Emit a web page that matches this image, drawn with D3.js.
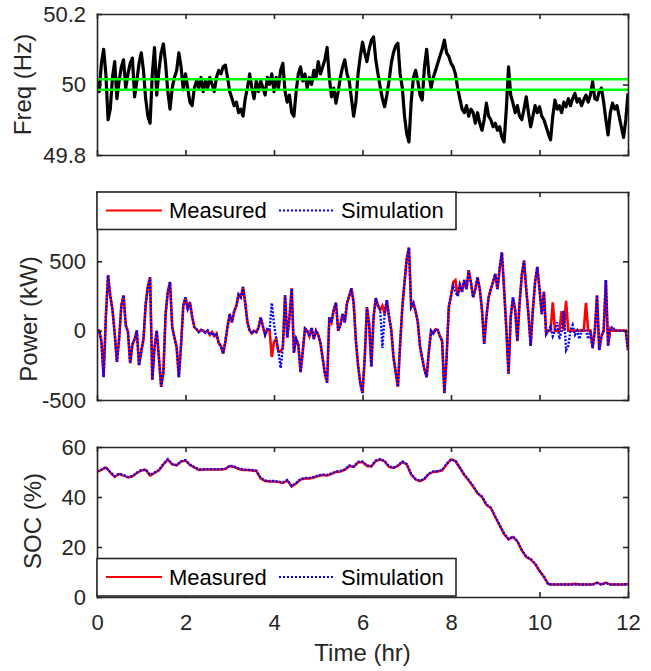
<!DOCTYPE html>
<head>
<meta charset='utf-8'>
<style>
  body { margin: 0; background: #fff; font-family: 'Liberation Sans', Arial, sans-serif; }
  .axis path, .axis line { stroke: #262626; stroke-width: 1.6px; }
  .axis text { font-size: 22px; fill: #262626; font-family: 'Liberation Sans', Arial, sans-serif; }
  .label { font-size: 24px; fill: #262626; }
  .legend text { font-size: 22px; fill: #000; }
</style>
</head>
<body>
<div id='vis'></div>
<script src='https://cdn.jsdelivr.net/npm/d3@7'></script>
<script>
  // time axis 0..12 hr, every series is evenly spaced over it
  const timeTicks = [0, 2, 4, 6, 8, 10, 12]
  const freqTicks = [49.8, 50, 50.2]
  const powerTicks = [-500, 0, 500]
  const socTicks = [0, 20, 40, 60]
  const seriesNames = ['Measured', 'Simulation']
  const deadband = [49.985, 50.015]

  // frequency (Hz), 0.05 hr steps
  const freqHz = [
    50.01, 49.98, 50.06, 50.10, 50.03, 49.90, 49.93, 50.02, 50.065, 49.96, 50.01, 50.05, 50.07, 49.99, 50.03, 50.06, 50.075, 49.965, 50.01, 50.06,
    50.09, 50.04, 49.96, 49.91, 49.89, 50.03, 50.105, 49.97, 50.04, 50.09, 50.115, 50.06, 49.98, 49.93, 49.99, 50.02, 50.04, 50.09, 50.05, 49.985,
    50.03, 49.99, 49.95, 49.94, 49.99, 50.01, 49.99, 50.02, 49.98, 50.01, 49.99, 50.02, 50.00, 49.98, 50.02, 50.04, 50.03, 50.05, 50.055, 50.02,
    49.98, 49.96, 49.94, 49.95, 49.92, 49.93, 49.91, 49.96, 49.99, 50.03, 49.99, 49.96, 50.01, 49.98, 50.01, 49.99, 49.97, 50.02, 50.00, 50.03,
    49.98, 50.02, 49.99, 50.04, 50.06, 49.98, 49.95, 49.97, 49.92, 49.91, 49.98, 50.03, 50.05, 50.01, 50.03, 49.99, 50.02, 50.00, 50.04, 50.02,
    50.065, 50.03, 50.05, 50.07, 50.105, 50.02, 49.965, 49.99, 49.947, 49.98, 50.02, 50.05, 50.07, 50.03, 50.01, 49.96, 49.91, 49.95, 50.03, 50.08,
    50.12, 50.09, 50.065, 50.10, 50.125, 50.135, 50.07, 50.03, 49.993, 49.96, 49.937, 49.97, 50.01, 50.06, 50.09, 50.11, 50.117, 50.03, 49.99, 49.91,
    49.86, 49.837, 49.95, 50.02, 50.04, 50.01, 49.97, 49.956, 50.05, 50.10, 50.03, 49.99, 50.02, 50.04, 50.06, 50.08, 50.10, 50.126, 50.09, 50.08,
    50.06, 50.05, 50.03, 49.99, 49.96, 49.93, 49.92, 49.94, 49.91, 49.93, 49.92, 49.89, 49.92, 49.89, 49.87, 49.90, 49.947, 49.91, 49.90, 49.88,
    49.89, 49.87, 49.88, 49.85, 49.837, 49.93, 50.05, 49.97, 49.947, 49.92, 49.94, 49.91, 49.90, 49.93, 49.965, 49.92, 49.88, 49.91, 49.94, 49.92,
    49.937, 49.91, 49.90, 49.88, 49.86, 49.843, 49.91, 49.956, 49.93, 49.94, 49.92, 49.95, 49.937, 49.96, 49.94, 49.96, 49.975, 49.95, 49.96, 49.94,
    49.956, 49.97, 49.95, 49.97, 50.008, 49.96, 49.956, 49.98, 49.99, 49.95, 49.90, 49.857, 49.92, 49.947, 49.93, 49.94, 49.91, 49.88, 49.85, 49.90,
    49.975
  ]

  // battery power (kW), 0.05 hr steps
  const powerMeasured = [
    0, 0, -80, -335, 100, 400, 250, 150, -20, -225, -60, 180, 255, 40, -10, -235, -100, -60, 0, -250,
    -150, -60, 190, 320, 385, -355, -120, 0, -200, -405, -300, 120, 280, 350, 25, -50, -120, -335, -100, 180,
    240, 160, 205, 100, 25, 10, -10, 5, 0, -15, 0, -30, -10, -40, -20, -90, -110, -165, -80, 30,
    120, 60, 140, 180, 260, 240, 315, 200, 60, 0, -20, 0, -10, 20, 95, 30, -30, 10, 0, -190,
    -80, -60, -150, -150, -120, 255, -50, 100, 305, -160, -60, -100, -300, -150, 15, 0, -40, 20, -60, 0,
    -30, -90, -200, -310, -375, 95, 60, 150, 200, 0, 40, 120, 60, 200, 250, 305, 200, -70, -250, -380,
    -450, -200, 170, 50, -260, 100, 235, 180, 150, 180, 120, 220, 100, 5, -190, -300, -405, -100, 170, 350,
    520, 600, 170, 200, 140, 60, -115, -200, -280, -335, -150, 0, -20, 10, 5, -40, -75, -450, -200, 170,
    250, 350, 365, 250, 330, 280, 365, 300, 435, 350, 240, 300, 385, 300, 150, -95, 100, 240, 300, 350,
    410, 300, 450, 565, 300, 15, -310, 100, 240, 150, -75, 200, 400, 505, 300, 120, -110, 150, 350, 460,
    300, 120, 280, -25, 0, 0, 205, 0, 0, 0, 140, 0, 215, 0, 0, 0, 0, 0, 0, 0,
    0, 200, 0, 0, -125, 0, 255, -140, -40, 0, 365, -110, 15, 0, 0, 0, 0, 0, 0, 0,
    -140
  ]
  const powerSimulation = [
    0, 0, -80, -335, 100, 400, 250, 150, -20, -225, -60, 180, 255, 40, -10, -235, -100, -60, 0, -250,
    -150, -60, 190, 320, 385, -355, -120, 0, -200, -405, -300, 120, 280, 350, 25, -50, -120, -335, -100, 180,
    240, 160, 205, 100, 25, 10, -10, 5, 0, -15, 0, -30, -10, -40, -20, -90, -110, -165, -80, 30,
    120, 60, 140, 180, 260, 240, 315, 200, 60, 0, -20, 0, -10, 20, 95, 30, -30, 10, 0, 200,
    50, -60, -150, -270, -120, 255, -50, 100, 305, -160, -60, -100, -300, -150, 15, 0, -40, 20, -60, 0,
    -30, -90, -200, -310, -375, 95, 60, 150, 200, 0, 40, 120, 60, 200, 250, 305, 200, -70, -250, -380,
    -450, -200, 170, 50, -260, 100, 235, 180, 150, -125, 120, 220, 100, 5, -190, -300, -405, -100, 170, 350,
    520, 600, 170, 200, 140, 60, -115, -200, -280, -335, -150, 0, -20, 10, 5, -40, -75, -450, -200, 170,
    250, 320, 280, 250, 330, 280, 365, 300, 435, 350, 240, 300, 385, 300, 150, -95, 100, 240, 300, 350,
    410, 300, 450, 565, 300, 15, -310, 100, 240, 150, -75, 200, 400, 505, 300, 120, -110, 150, 350, 460,
    300, 120, 280, -25, 0, 30, -40, 0, 60, -60, 0, 145, -140, -110, 0, 40, -30, 0, -60, 0,
    0, 0, -60, 0, -125, 0, 255, -140, -40, 0, 365, -110, 15, 30, 0, 0, 0, 0, 0, 0,
    -140
  ]

  // state of charge (%), 0.1 hr steps
  const socMeasured = [
    50.0, 50.8, 51.8, 49.8, 48.0, 49.2, 48.6, 47.8, 48.2, 49.6,
    50.6, 50.9, 48.5, 49.6, 50.7, 53.0, 55.0, 53.0, 52.6, 54.2,
    54.6, 52.8, 51.8, 50.8, 51.0, 51.0, 51.0, 51.0, 51.0, 51.2,
    52.4, 52.0, 51.2, 50.8, 50.8, 50.6, 50.4, 47.4, 46.4, 46.2,
    46.2, 46.0, 45.6, 46.6, 44.2, 45.4, 47.0, 47.4, 47.4, 47.8,
    48.4, 48.8, 48.6, 49.2, 50.0, 50.2, 50.8, 52.4, 52.0, 53.8,
    54.0, 52.4, 52.2, 54.4, 55.0, 54.2, 52.0, 51.6, 52.4, 54.0,
    53.0, 49.0, 47.0, 46.3, 47.2, 49.2, 50.0, 50.2, 50.6, 53.0,
    55.0, 54.4, 51.6, 48.8, 46.6, 44.2, 41.4, 40.0, 36.8, 35.6,
    32.0, 28.6, 25.2, 23.0, 24.0, 22.2, 18.6, 16.0, 15.0, 13.2,
    10.4, 8.0, 5.2, 5.0, 5.0, 5.0, 5.0, 5.0, 5.3, 5.0,
    5.0, 5.0, 5.0, 5.8, 5.0, 5.8, 5.0, 5.0, 5.0, 5.0, 5.2
  ]
  const socSimulation = [
    50.2, 51.0, 51.9, 50.0, 48.3, 49.4, 48.8, 48.0, 48.4, 49.7,
    50.7, 51.0, 48.8, 49.8, 50.8, 53.2, 55.1, 53.2, 52.8, 54.3,
    54.7, 53.0, 52.0, 51.0, 51.1, 51.1, 51.1, 51.1, 51.1, 51.3,
    52.5, 52.2, 51.4, 51.0, 50.9, 50.8, 50.5, 47.6, 46.6, 46.4,
    46.4, 46.2, 45.8, 46.8, 44.4, 45.6, 47.2, 47.6, 47.6, 48.0,
    48.6, 49.0, 48.8, 49.4, 50.2, 50.4, 51.0, 52.6, 52.2, 54.0,
    54.2, 52.6, 52.4, 54.6, 55.2, 54.4, 52.2, 51.8, 52.6, 54.2,
    53.2, 49.2, 47.2, 46.5, 47.4, 49.4, 50.2, 50.4, 50.8, 53.2,
    55.1, 54.5, 51.8, 49.0, 46.8, 44.4, 41.6, 40.2, 37.0, 35.8,
    32.2, 28.8, 25.4, 23.2, 24.2, 22.4, 18.8, 16.2, 15.2, 13.4,
    10.6, 8.2, 5.0, 5.0, 5.0, 5.0, 5.0, 5.0, 5.0, 5.0,
    5.0, 5.0, 5.0, 5.6, 5.0, 5.6, 5.0, 5.0, 5.0, 5.0, 5.0
  ]

  const left = 97, plotW = 531

  const svg = d3.select('#vis')
    .append('svg')
    .attr('width', 651)
    .attr('height', 671)

  const x = d3.scaleLinear().domain([0, 12]).range([0, plotW])

  function seriesLine(y, arr) {
    return d3.line()
      .x((d, i) => x(i * 12 / (arr.length - 1)))
      .y(d => y(d))(arr)
  }

  function makePanel(id, top, bottom, domain) {
    const h = bottom - top
    const g = svg.append('g').attr('transform', `translate(${left}, ${top})`)
    g.append('clipPath').attr('id', id)
      .append('rect').attr('width', plotW).attr('height', h)
    const plot = g.append('g').attr('clip-path', `url(#${id})`)
    const y = d3.scaleLinear().domain(domain).range([h, 0])
    return {g, plot, y, h}
  }

  function drawFrame(p, yTicks, showX) {
    const fmt = d => String(d)
    p.g.append('g').attr('class', 'axis').attr('transform', `translate(0, ${p.h})`)
      .call(d3.axisBottom(x).tickValues(timeTicks).tickSize(-5).tickSizeOuter(0)
        .tickPadding(17).tickFormat(showX ? fmt : ''))
    p.g.append('g').attr('class', 'axis')
      .call(d3.axisTop(x).tickValues(timeTicks).tickSize(-5).tickSizeOuter(0).tickFormat(''))
    p.g.append('g').attr('class', 'axis')
      .call(d3.axisLeft(p.y).tickValues(yTicks).tickSize(-5).tickSizeOuter(0)
        .tickPadding(11).tickFormat(fmt))
    p.g.append('g').attr('class', 'axis').attr('transform', `translate(${plotW}, 0)`)
      .call(d3.axisRight(p.y).tickValues(yTicks).tickSize(-5).tickSizeOuter(0).tickFormat(''))
    p.g.selectAll('.axis .domain').attr('stroke-linecap', 'square')
  }

  function drawLegend(p, yTop) {
    const lg = p.g.append('g').attr('class', 'legend').attr('transform', `translate(0, ${yTop})`)
    const mid = 18.5
    lg.append('rect').attr('width', 359).attr('height', 37.5)
      .attr('fill', '#fff').attr('stroke', '#262626').attr('stroke-width', 1.6)
    lg.append('line').attr('x1', 9).attr('x2', 65).attr('y1', mid).attr('y2', mid)
      .attr('stroke', '#ff0000').attr('stroke-width', 2)
    lg.append('text').attr('x', 72).attr('y', mid).attr('dy', '0.36em').text(seriesNames[0])
    lg.append('line').attr('x1', 182).attr('x2', 237).attr('y1', mid).attr('y2', mid)
      .attr('stroke', '#0000ff').attr('stroke-width', 2).attr('stroke-dasharray', '2,2')
    lg.append('text').attr('x', 244).attr('y', mid).attr('dy', '0.36em').text(seriesNames[1])
  }

  function yLabel(text, cx, cy) {
    svg.append('text').attr('class', 'label')
      .attr('transform', `translate(${cx}, ${cy}) rotate(-90)`)
      .attr('text-anchor', 'middle')
      .text(text)
  }

  // frequency
  const p1 = makePanel('clip1', 14, 155, [49.8, 50.2])
  p1.plot.append('path').attr('d', seriesLine(p1.y, freqHz))
    .attr('fill', 'none').attr('stroke', '#000').attr('stroke-width', 3.2).attr('stroke-linejoin', 'round')
  deadband.forEach(v => {
    p1.plot.append('path').attr('d', seriesLine(p1.y, [v, v]))
      .attr('stroke', '#00ff00').attr('stroke-width', 2.5)
  })
  drawFrame(p1, freqTicks, false)
  yLabel('Freq (Hz)', 31, 84.5)

  // power
  const p2 = makePanel('clip2', 192, 400, [-500, 1000])
  p2.plot.append('path').attr('d', seriesLine(p2.y, powerMeasured))
    .attr('fill', 'none').attr('stroke', '#ff0000').attr('stroke-width', 2.6)
  p2.plot.append('path').attr('d', seriesLine(p2.y, powerSimulation))
    .attr('fill', 'none').attr('stroke', '#0000ff').attr('stroke-width', 2.4).attr('stroke-dasharray', '2,1.6')
  drawFrame(p2, powerTicks, false)
  drawLegend(p2, 0)
  yLabel('Power (kW)', 37, 319)

  // SOC
  const p3 = makePanel('clip3', 447, 597, [0, 60])
  p3.plot.append('path').attr('d', seriesLine(p3.y, socMeasured))
    .attr('fill', 'none').attr('stroke', '#ff0000').attr('stroke-width', 2.4)
  p3.plot.append('path').attr('d', seriesLine(p3.y, socSimulation))
    .attr('fill', 'none').attr('stroke', '#0000ff').attr('stroke-width', 2.4).attr('stroke-dasharray', '2,1.6')
  drawFrame(p3, socTicks, true)
  drawLegend(p3, 150 - 38.5)
  yLabel('SOC (%)', 41, 521)

  svg.append('text').attr('class', 'label')
    .attr('x', left + plotW / 2).attr('y', 661)
    .attr('text-anchor', 'middle')
    .text('Time (hr)')
</script>
</body>
